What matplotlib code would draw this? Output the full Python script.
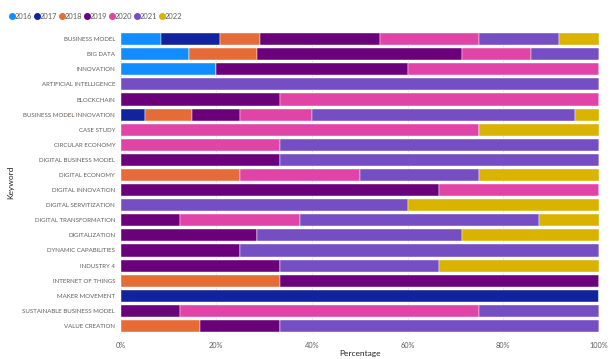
import matplotlib; matplotlib.use("Agg")
import matplotlib.pyplot as plt
from matplotlib.lines import Line2D
from matplotlib.ticker import FuncFormatter

plt.rcParams["font.family"] = ["Lato", "DejaVu Sans"]

keywords = ["BUSINESS MODEL", "BIG DATA", "INNOVATION", "ARTIFICIAL INTELLIGENCE", "BLOCKCHAIN",
            "BUSINESS MODEL INNOVATION", "CASE STUDY", "CIRCULAR ECONOMY", "DIGITAL BUSINESS MODEL",
            "DIGITAL ECONOMY", "DIGITAL INNOVATION", "DIGITAL SERVITIZATION", "DIGITAL TRANSFORMATION",
            "DIGITALIZATION", "DYNAMIC CAPABILITIES", "INDUSTRY 4", "INTERNET OF THINGS",
            "MAKER MOVEMENT", "SUSTAINABLE BUSINESS MODEL", "VALUE CREATION"]
years = ["2016", "2017", "2018", "2019", "2020", "2021", "2022"]

# share (%) of each keyword per year
y2016 = [8.33, 14.29, 20, 0, 0, 0, 0, 0, 0, 0, 0, 0, 0, 0, 0, 0, 0, 0, 0, 0]
y2017 = [12.5, 0, 0, 0, 0, 5, 0, 0, 0, 0, 0, 0, 0, 0, 0, 0, 0, 100, 0, 0]
y2018 = [8.33, 14.29, 0, 0, 0, 10, 0, 0, 0, 25, 0, 0, 0, 0, 0, 0, 33.33, 0, 0, 16.67]
y2019 = [25, 42.86, 40, 0, 33.33, 10, 0, 0, 33.33, 0, 66.67, 0, 12.5, 28.57, 25, 33.33, 66.67, 0, 12.5, 16.67]
y2020 = [20.83, 14.29, 40, 0, 66.67, 15, 75, 33.33, 0, 25, 33.33, 0, 25, 0, 0, 0, 0, 0, 62.5, 0]
y2021 = [16.67, 14.29, 0, 100, 0, 55, 0, 66.67, 66.67, 25, 0, 60, 50, 42.86, 75, 33.33, 0, 0, 25, 66.67]
y2022 = [8.33, 0, 0, 0, 0, 5, 25, 0, 0, 25, 0, 40, 12.5, 28.57, 0, 33.33, 0, 0, 0, 0]
series = [y2016, y2017, y2018, y2019, y2020, y2021, y2022]
colors = ["#118DFF", "#12239E", "#E66C37", "#6B007B", "#E044A7", "#744EC2", "#D9B300"]

fig = plt.figure(figsize=(6.16, 3.59), dpi=100)
ax = fig.add_axes([0.196, 0.071, 0.776, 0.841])

pos = list(range(len(keywords)))
left = [0] * len(keywords)
for vals, c in zip(series, colors):
    ax.barh(pos, vals, left=left, height=0.8, color=c, edgecolor="white", linewidth=0.3, zorder=3)
    left = [l + v for l, v in zip(left, vals)]

ax.set_ylim(len(keywords) - 0.5, -0.5)
ax.set_xlim(0, 100)
ax.set_yticks(pos)
ax.set_yticklabels(keywords, fontsize=4.4, color="#605E5C")
ax.set_xticks([0, 20, 40, 60, 80, 100])
ax.xaxis.set_major_formatter(FuncFormatter(lambda v, p: f"{v:.0f}%"))
ax.tick_params(axis="x", labelsize=5.3, colors="#605E5C", length=0, pad=6)
ax.tick_params(axis="y", length=0, pad=4)
ax.grid(axis="x", color="#C8C6C4", linestyle=(0, (1, 2)), linewidth=0.6, zorder=0)
for s in ax.spines.values():
    s.set_visible(False)
ax.set_xlabel("Percentage", fontsize=6, color="#252423", labelpad=1)
ax.set_ylabel("Keyword", fontsize=6, color="#252423")
ax.yaxis.set_label_coords(-0.223, 0.5)

handles = [Line2D([], [], marker="o", linestyle="", color=c, markersize=4) for c in colors]
fig.legend(handles, years, loc="upper left", bbox_to_anchor=(0.008, 0.977), ncol=7, frameon=False,
           fontsize=5.4, labelcolor="#605E5C", handlelength=0.6, handletextpad=0.1,
           columnspacing=0.3, borderaxespad=0.2)

fig.savefig("out.png", dpi=100)
